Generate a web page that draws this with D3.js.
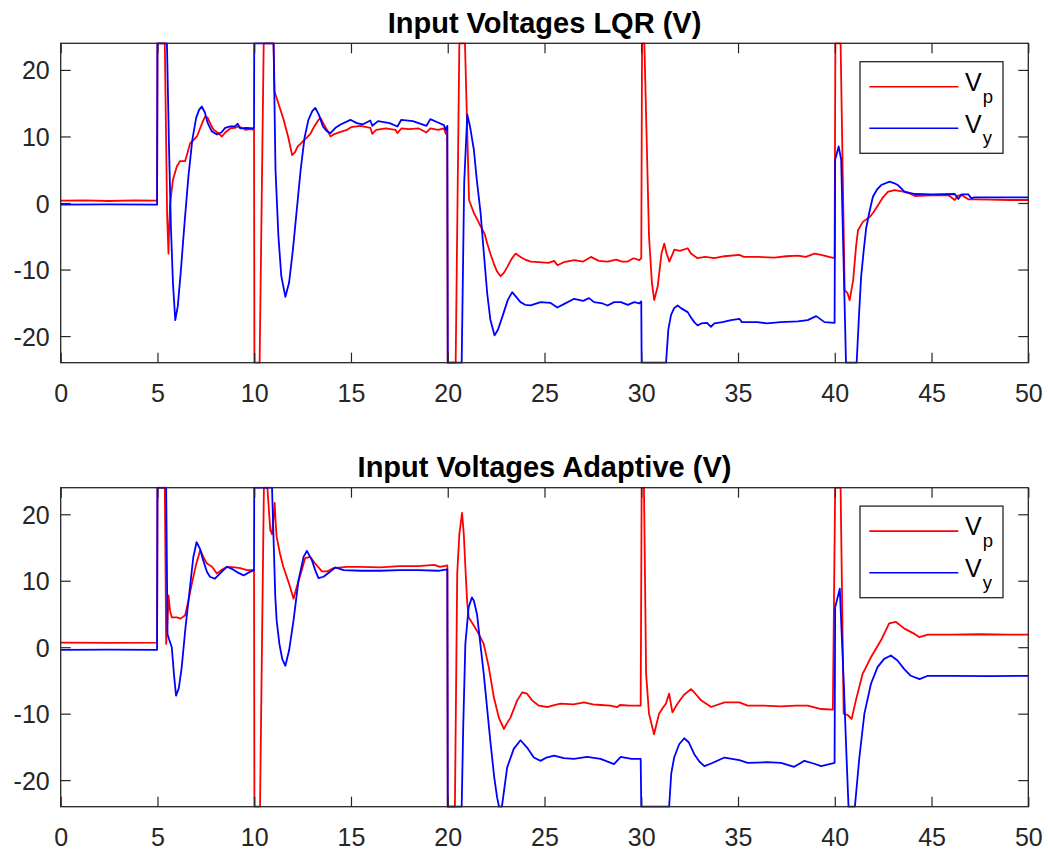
<!DOCTYPE html>
<html>
<head>
<meta charset="utf-8">
<script src="https://cdn.jsdelivr.net/npm/d3@7"></script>
<style>
  body { margin: 0; background: #ffffff; }
  svg { display: block; }
  text { font-family: "Liberation Sans", Arial, Helvetica, sans-serif; }
</style>
</head>
<body>
<svg id="chart" width="1048" height="852"></svg>
<script>
// Time axis ticks (s) and voltage ticks (V)
const xTickValues = [0, 5, 10, 15, 20, 25, 30, 35, 40, 45, 50];
const yTickValues = [-20, -10, 0, 10, 20];
const timeDomain = [0, 50];
const voltDomain = [-24, 24];

const panelTitles = ["Input Voltages LQR (V)", "Input Voltages Adaptive (V)"];
const seriesNames = ["p", "y"];
const seriesColors = ["#ff0000", "#0000ff"];

// LQR controller: pitch voltage [t, V]
const lqrPitch = [
  [0,0.35],[1.2,0.4],[2.5,0.3],[3.8,0.4],[4.98,0.35],
  [5.0,24],[5.38,24],[5.5,-2],[5.57,-7.6],[5.6,-4],[5.65,-0.3],[5.8,3.5],[6.0,5.5],[6.17,6.3],[6.43,6.3],
  [6.55,7.5],[6.69,9.0],[6.85,9.4],[7.04,10.0],[7.2,11.2],[7.35,12.3],[7.47,13.0],[7.6,12.8],[7.75,11.8],
  [7.9,11.0],[8.1,10.6],[8.33,10.0],[8.5,10.6],[8.76,11.2],[9.0,11.3],[9.2,11.5],[9.35,11.3],[9.54,11.0],
  [9.8,11.1],[9.99,11.0],
  [10.01,-24],[10.28,-24],[10.49,24],[11.0,24],[11.05,16.8],[11.1,16.3],[11.3,14.5],[11.52,12.5],[11.75,10.0],
  [11.96,7.2],[12.1,7.6],[12.25,8.5],[12.39,8.9],[12.56,9.4],[12.7,9.8],[12.9,10.4],[13.1,11.5],[13.3,12.4],
  [13.42,12.8],[13.6,11.8],[13.8,10.8],[13.94,10.0],[14.1,10.3],[14.46,10.7],[14.8,11.0],[15.0,11.4],
  [15.49,11.6],[16.0,11.3],[16.1,10.4],[16.3,11.0],[16.8,11.2],[17.3,11.0],[17.4,10.5],[17.6,11.2],
  [18.0,11.1],[18.5,11.2],[18.9,10.6],[19.1,11.2],[19.5,11.0],[19.8,11.2],[19.9,10.4],[19.97,10.9],
  [20.0,-24],[20.41,-24],[20.6,24],[20.89,24],[21.1,0.45],[21.35,-1.5],[21.55,-2.6],[21.7,-3.5],[21.9,-4.6],
  [22.04,-6.1],[22.2,-7.6],[22.38,-9.1],[22.55,-10.3],[22.73,-11.0],[22.9,-10.5],[23.08,-9.6],[23.3,-8.4],
  [23.51,-7.6],[23.8,-8.2],[24.0,-8.5],[24.29,-8.8],[24.7,-8.9],[25.2,-9.0],[25.5,-8.7],[25.67,-9.35],
  [26.0,-8.9],[26.54,-8.6],[27.0,-8.8],[27.4,-8.1],[27.8,-8.7],[28.26,-8.8],[28.7,-8.5],[29.0,-8.8],
  [29.3,-8.8],[29.6,-8.3],[29.9,-8.6],[30.0,-8.3],
  [30.04,24],[30.16,24],[30.4,-5],[30.55,-12],[30.67,-14.6],[30.85,-12.5],[31.05,-7.5],[31.19,-6.1],
  [31.3,-7.5],[31.45,-8.8],[31.6,-7.8],[31.71,-7.0],[32.0,-7.2],[32.4,-6.8],[32.57,-7.6],[32.91,-8.3],
  [33.3,-8.1],[33.78,-8.3],[34.3,-8.0],[35.07,-7.8],[35.3,-8.1],[36.0,-8.1],[36.88,-8.2],[37.5,-8.0],
  [38.09,-7.9],[38.5,-8.1],[38.95,-7.6],[39.3,-7.8],[39.7,-8.1],[39.99,-8.3],
  [40.03,24],[40.3,24],[40.51,-13.1],[40.65,-13.5],[40.77,-14.6],[40.95,-11.6],[41.1,-6.5],[41.2,-4.1],
  [41.46,-2.8],[41.81,-2.1],[42.0,-1.4],[42.24,-0.3],[42.5,0.9],[42.76,1.7],[43.1,1.95],[43.53,1.7],
  [43.8,1.5],[44.14,1.05],[45.0,1.15],[45.86,1.2],[46.2,0.45],[46.35,1.1],[46.55,1.2],[46.9,0.55],
  [47.2,0.55],[48.0,0.5],[49.0,0.45],[50,0.45]
];

// LQR controller: yaw voltage [t, V]
const lqrYaw = [
  [0,-0.25],[2.5,-0.2],[4.98,-0.25],
  [5.0,24],[5.49,24],[5.6,8],[5.7,-4],[5.8,-12],[5.92,-17.6],[6.05,-15.5],[6.2,-10.5],[6.4,-3],[6.6,4],
  [6.8,9.5],[7.0,12.8],[7.15,14.0],[7.29,14.5],[7.45,13.6],[7.6,12.0],[7.8,10.8],[8.07,10.3],[8.3,10.6],
  [8.5,11.3],[8.76,11.5],[9.0,11.5],[9.14,11.9],[9.28,11.2],[9.6,11.3],[9.99,11.2],
  [10.0,24],[11.0,24],[11.1,5],[11.25,-5],[11.4,-11],[11.61,-14.1],[11.8,-12],[12.0,-7],[12.2,-1],[12.4,5],
  [12.6,9.8],[12.8,12.5],[13.0,13.8],[13.16,14.3],[13.35,13.2],[13.55,11.5],[13.75,10.8],[13.94,10.5],
  [14.2,11.3],[14.46,11.8],[14.97,12.5],[15.3,12.0],[15.6,11.8],[16.0,12.4],[16.1,11.6],[16.4,12.3],
  [17.0,12.0],[17.4,11.5],[17.6,12.5],[18.2,12.3],[18.9,11.6],[19.1,12.6],[19.5,12.1],[19.8,11.7],
  [19.9,11.0],[19.98,11.6],
  [20.0,-24],[20.72,-24],[20.85,3],[21.01,13.3],[21.15,11.5],[21.35,8.0],[21.5,3.5],[21.7,-1.55],[21.85,-7],
  [22.04,-13.6],[22.2,-17.5],[22.42,-19.9],[22.6,-19],[22.9,-16.4],[23.1,-14.6],[23.33,-13.4],[23.5,-14.0],
  [23.76,-14.9],[24.0,-15.3],[24.28,-15.4],[24.8,-14.9],[25.3,-15.0],[25.66,-15.7],[26.0,-15.2],
  [26.53,-14.4],[27.0,-14.7],[27.3,-14.3],[27.56,-14.9],[28.0,-15.1],[28.26,-15.4],[28.6,-14.9],
  [28.95,-14.9],[29.3,-15.3],[29.64,-14.9],[29.9,-15.1],[30.0,-14.8],
  [30.02,-24],[31.28,-24],[31.4,-19],[31.54,-16.8],[31.7,-15.8],[31.88,-15.4],[32.05,-15.8],[32.4,-16.4],
  [32.57,-17.2],[32.74,-17.9],[32.91,-18.4],[33.1,-18.1],[33.4,-18.0],[33.6,-18.6],[33.78,-18.1],
  [34.2,-17.9],[34.64,-17.6],[35.07,-17.4],[35.2,-17.9],[36.0,-17.9],[36.5,-18.1],[37.2,-17.9],
  [38.09,-17.8],[38.6,-17.6],[39.04,-17.0],[39.47,-17.9],[39.99,-18.0],
  [40.02,6.5],[40.2,8.5],[40.33,6.5],[40.58,-24],[41.13,-24],[41.25,-17],[41.36,-11.1],[41.5,-7],
  [41.62,-3.8],[41.8,-1.2],[41.97,0.95],[42.2,2.1],[42.4,2.7],[42.83,3.2],[43.05,3.0],[43.26,2.7],
  [43.6,1.7],[44.14,1.35],[45.0,1.3],[46.2,1.35],[46.38,0.6],[46.55,1.3],[46.9,1.3],[47.05,0.7],
  [47.2,0.85],[48.5,0.85],[50,0.85]
];

// Adaptive controller: pitch voltage [t, V]
const adaptivePitch = [
  [0,0.7],[2.5,0.65],[4.98,0.7],
  [5.0,24],[5.38,24],[5.45,0.5],[5.52,4],[5.57,7.8],[5.65,5.5],[5.74,4.5],[6.0,4.5],[6.2,4.3],[6.43,4.8],
  [6.6,7],[6.78,9.6],[7.0,12.5],[7.21,14.6],[7.4,13.4],[7.56,12.6],[7.82,12.1],[8.07,11.1],[8.3,11.6],
  [8.59,12.1],[9.0,12.0],[9.28,11.9],[9.63,11.6],[9.99,11.6],
  [10.01,-24],[10.3,-24],[10.5,24],[10.68,24],[10.83,17.6],[10.92,17.0],[11.06,21.7],[11.1,19],
  [11.16,16.6],[11.33,14.1],[11.5,12.1],[11.68,10.6],[11.85,9.1],[12.03,7.3],[12.2,9.1],[12.46,11.6],
  [12.63,13.4],[12.89,13.6],[13.15,12.6],[13.5,11.4],[13.75,11.4],[14.1,11.9],[14.79,12.1],[15.5,12.1],
  [16.5,12.0],[17.5,12.2],[18.5,12.2],[19.3,12.4],[19.6,12.1],[19.98,12.3],
  [20.0,-24],[20.37,-24],[20.49,11.1],[20.6,17],[20.74,20.2],[20.83,17],[20.91,12.1],[21.0,7],[21.08,4.5],
  [21.34,3.3],[21.6,2.0],[21.86,0.5],[22.12,-3.0],[22.38,-7.5],[22.64,-10.6],[22.9,-12.3],[23.05,-11.5],
  [23.24,-10.6],[23.59,-8.0],[23.85,-6.8],[24.1,-7.0],[24.36,-8.0],[24.71,-8.8],[25.14,-9.0],[25.5,-8.7],
  [25.83,-8.5],[26.5,-8.6],[27.04,-8.3],[27.5,-8.6],[27.9,-8.7],[28.4,-8.8],[28.76,-9.0],[28.9,-8.7],
  [29.4,-8.8],[29.97,-8.8],
  [30.02,24],[30.14,24],[30.25,-4],[30.4,-10.0],[30.66,-13.1],[30.92,-10.0],[31.1,-9.2],[31.27,-8.5],
  [31.44,-7.0],[31.61,-9.8],[31.87,-8.5],[32.2,-7.2],[32.57,-6.3],[32.8,-7.0],[33.09,-8.0],[33.61,-9.0],
  [34.3,-8.3],[35.07,-8.3],[35.5,-8.8],[36.3,-8.8],[37.22,-8.9],[38.0,-8.8],[38.6,-8.8],[39.3,-9.3],
  [39.9,-9.4],
  [40.02,24],[40.3,24],[40.46,-10.0],[40.66,-10.2],[40.87,-10.8],[41.09,-8.0],[41.44,-4.0],[41.87,-1.5],
  [42.38,1.0],[42.81,3.6],[43.16,3.8],[43.6,2.8],[44.12,2.0],[44.38,1.5],[44.81,1.9],[46,1.9],
  [47.5,1.95],[49,1.9],[50,1.9]
];

// Adaptive controller: yaw voltage [t, V]
const adaptiveYaw = [
  [0,-0.4],[2.5,-0.35],[4.98,-0.4],
  [5.0,24],[5.45,24],[5.52,2.0],[5.6,1.2],[5.74,0],[5.85,-4],[5.96,-7.3],[6.1,-6.2],[6.25,-3.1],[6.45,3],
  [6.68,9.0],[6.85,13.5],[7.02,15.8],[7.2,14.8],[7.36,13.1],[7.55,11.4],[7.71,10.6],[7.97,10.3],
  [8.3,11.3],[8.59,12.1],[8.9,11.7],[9.11,11.3],[9.45,10.8],[9.75,11.3],[9.99,11.6],
  [10.0,24],[10.92,24],[11.09,7.5],[11.16,4.0],[11.3,0.5],[11.45,-1.8],[11.61,-2.8],[11.8,-0.5],
  [12.03,4.0],[12.29,10.1],[12.55,13.6],[12.72,14.5],[12.98,13.1],[13.15,11.6],[13.32,10.4],
  [13.58,10.6],[13.93,11.4],[14.19,12.0],[14.62,11.6],[15.5,11.5],[16.5,11.5],[17.5,11.6],[18.5,11.6],
  [19.5,11.5],[19.98,11.7],
  [20.0,-24],[20.72,-24],[20.8,-12],[20.91,0.5],[21.08,6.0],[21.25,7.5],[21.35,7.0],[21.51,5.0],[21.86,-4.0],
  [22.2,-14.1],[22.4,-19.5],[22.55,-22.6],[22.65,-24],[22.8,-24],[23.07,-18.1],[23.41,-15.3],
  [23.76,-14.0],[24.1,-15.1],[24.45,-16.6],[24.8,-17.1],[25.1,-16.6],[25.49,-16.3],[26.0,-16.7],
  [26.52,-16.8],[27.2,-16.5],[27.9,-16.8],[28.59,-17.6],[28.94,-16.5],[29.5,-16.8],[29.97,-16.8],
  [30.0,-24],[31.44,-24],[31.55,-19],[31.7,-16.6],[31.96,-14.6],[32.22,-13.7],[32.45,-14.3],
  [32.74,-16.1],[33.0,-17.2],[33.26,-17.9],[33.61,-17.5],[34.3,-16.6],[35.07,-17.0],[35.5,-17.4],
  [36.5,-17.3],[37.22,-17.4],[37.9,-18.0],[38.43,-17.1],[38.9,-17.5],[39.3,-17.9],[39.99,-17.4],
  [40.02,6.0],[40.26,8.8],[40.48,-6.5],[40.6,-16],[40.71,-24],[41.04,-24],[41.27,-16.6],[41.53,-10.0],
  [41.87,-5.5],[42.21,-3.0],[42.55,-1.75],[42.9,-1.25],[43.24,-2.0],[43.59,-3.3],[43.93,-4.3],
  [44.38,-4.8],[44.81,-4.3],[46,-4.3],[48,-4.35],[50,-4.3]
];

const panelSeries = [[lqrPitch, lqrYaw], [adaptivePitch, adaptiveYaw]];

// Layout of the two stacked axes
const plotLeft = 60.7, plotRight = 1028.3;
const panelBoxes = [
  { top: 43.3, bottom: 362.7 },
  { top: 487.7, bottom: 806.7 }
];
const axisColor = "#262626";
const tickLen = 10;

const svg = d3.select("#chart");
svg.append("rect").attr("width", 1048).attr("height", 852).attr("fill", "#ffffff");

const x = d3.scaleLinear().domain(timeDomain).range([plotLeft, plotRight]);

panelBoxes.forEach((box, i) => {
  const y = d3.scaleLinear().domain(voltDomain).range([box.bottom, box.top]);
  const g = svg.append("g");

  const clipId = "clip" + i;
  svg.append("clipPath").attr("id", clipId)
    .append("rect")
    .attr("x", plotLeft).attr("y", box.top - 1)
    .attr("width", plotRight - plotLeft).attr("height", box.bottom - box.top + 2);

  // Data lines (pitch first, yaw drawn over it)
  const line = d3.line().x(d => x(d[0])).y(d => y(d[1]));
  const lines = g.append("g").attr("clip-path", `url(#${clipId})`);
  panelSeries[i].forEach((data, k) => {
    lines.append("path")
      .datum(data)
      .attr("d", line)
      .attr("fill", "none")
      .attr("stroke", seriesColors[k])
      .attr("stroke-width", 1.8)
      .attr("stroke-linejoin", "round");
  });

  // Axes: bottom/left with labels, top/right mirrored, ticks pointing inward
  const xAxisB = d3.axisBottom(x).tickValues(xTickValues).tickSizeInner(-tickLen).tickSizeOuter(0).tickPadding(22);
  const xAxisT = d3.axisTop(x).tickValues(xTickValues).tickSizeInner(-tickLen).tickSizeOuter(0).tickFormat("");
  const yAxisL = d3.axisLeft(y).tickValues(yTickValues).tickSizeInner(-tickLen).tickSizeOuter(0).tickPadding(11);
  const yAxisR = d3.axisRight(y).tickValues(yTickValues).tickSizeInner(-tickLen).tickSizeOuter(0).tickFormat("");

  const style = sel => {
    sel.selectAll("path.domain").remove();
    sel.selectAll("line").attr("stroke", axisColor).attr("stroke-width", 1.2);
    sel.selectAll("text")
      .attr("fill", axisColor)
      .style("font-family", '"Liberation Sans", Arial, Helvetica, sans-serif')
      .style("font-size", "25px");
  };

  g.append("g").attr("transform", `translate(0,${box.bottom})`).call(xAxisB).call(style)
    .selectAll("text").attr("dy", "0.71em");
  g.append("g").attr("transform", `translate(0,${box.top})`).call(xAxisT).call(style);
  g.append("g").attr("transform", `translate(${plotLeft},0)`).call(yAxisL).call(style)
    .selectAll("text").attr("dy", "0.36em").text(d => d < 0 ? "-" + Math.abs(d) : d);
  g.append("g").attr("transform", `translate(${plotRight},0)`).call(yAxisR).call(style);

  // Axes box
  g.append("rect")
    .attr("x", plotLeft).attr("y", box.top)
    .attr("width", plotRight - plotLeft).attr("height", box.bottom - box.top)
    .attr("fill", "none").attr("stroke", axisColor).attr("stroke-width", 1.3);

  // Title
  g.append("text")
    .attr("x", (plotLeft + plotRight) / 2)
    .attr("y", box.top - 10.6)
    .attr("text-anchor", "middle")
    .attr("fill", "#000000")
    .style("font-size", "29px")
    .style("font-weight", "bold")
    .text(panelTitles[i]);

  // Legend
  const lg = g.append("g").attr("transform", `translate(860,${box.top + 18.4})`);
  lg.append("rect")
    .attr("x", 0).attr("y", 0).attr("width", 143).attr("height", 91.6)
    .attr("fill", "#ffffff").attr("stroke", axisColor).attr("stroke-width", 1.3);
  seriesNames.forEach((name, k) => {
    const cy = 25 + k * 41.6;
    lg.append("line")
      .attr("x1", 9.3).attr("x2", 98.3).attr("y1", cy).attr("y2", cy)
      .attr("stroke", seriesColors[k]).attr("stroke-width", 1.6);
    const t = lg.append("text")
      .attr("x", 105).attr("y", cy + 4.3)
      .attr("fill", "#000000")
      .style("font-size", "25px");
    t.append("tspan").text("V");
    t.append("tspan").attr("dx", 1).attr("dy", 11.8).style("font-size", "18.5px").text(name);
  });
});
</script>
</body>
</html>
